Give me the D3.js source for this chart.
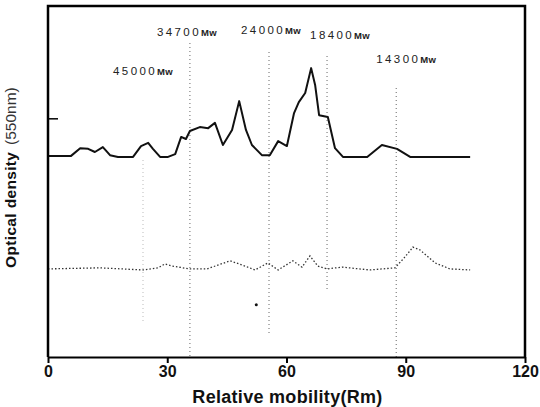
<!DOCTYPE html>
<html>
<head>
<meta charset="utf-8">
<script src="https://cdnjs.cloudflare.com/ajax/libs/d3/7.8.5/d3.min.js"></script>
<style>
  body { margin: 0; background: #fff; }
  svg { display: block; font-family: "Liberation Sans", Arial, sans-serif; }
</style>
</head>
<body>
<div id="chart"></div>
<script>
// densitometer scan - relative mobility vs optical density

// upper trace (solid)
var upperRm = [0, 5.8, 8.1, 10.1, 11.8, 13.8, 15.6, 17.6, 21.4, 23.4, 25.2, 26.4, 28.2, 30.2, 32.0, 33.5, 34.7, 35.7, 38.2, 40.3, 42.0, 44.0, 46.3, 48.1, 49.8, 51.3, 53.8, 55.8, 57.9, 60.1, 61.9, 63.1, 64.7, 66.2, 67.2, 68.2, 70.4, 72.2, 74.2, 80.3, 84.0, 87.8, 91.1, 106.2];
var upperOD = [57.3, 57.3, 59.5, 59.3, 58.4, 59.8, 57.5, 57.0, 57.0, 60.1, 61.0, 59.3, 57.0, 57.0, 57.8, 62.7, 62.1, 64.4, 65.5, 65.2, 66.7, 60.4, 64.7, 72.9, 64.7, 60.4, 57.5, 57.5, 61.5, 60.1, 69.5, 72.6, 75.2, 82.3, 77.5, 68.9, 68.4, 59.5, 57.0, 57.0, 60.4, 59.3, 57.0, 57.0];

// lower trace (dotted)
var lowerRm = [0, 13.1, 23.9, 27.7, 29.4, 31.2, 35.7, 40.0, 45.8, 49.6, 52.1, 55.3, 57.9, 61.6, 63.9, 65.9, 67.9, 70.2, 74.0, 81.0, 87.3, 89.8, 91.8, 93.6, 97.4, 101.1, 106.2];
var lowerOD = [25.1, 25.4, 24.8, 25.4, 26.5, 25.9, 25.1, 25.1, 27.4, 25.9, 24.8, 26.8, 24.8, 27.4, 25.6, 28.8, 25.9, 25.1, 25.6, 24.8, 25.4, 28.5, 31.3, 30.5, 26.8, 25.1, 24.8];

// molecular weight markers
var markerNames = ['45000', '34700', '24000', '18400', '14300'];
var markerRm = [23.9, 35.7, 55.6, 70.2, 87.6];

var xTicks = [0, 30, 60, 90, 120];
var yTicks = [68];

// layout (pixels)
var W = 540, H = 407;
var mLeft = 48, mRight = 525, mTop = 6, mBottom = 357;
// label placement: [dx from line, baseline y], marker line [y0, y1]
var labelPos = [[0, 75], [-3, 36], [2, 34], [13, 39], [10, 63]];
var lineSpan = [[160, 322], [43, 357], [52, 334], [56, 292], [88, 357]];

var svg = d3.select('#chart')
.append('svg')
.attr('width', W)
.attr('height', H)
.style('background-color', '#fff');

var x = d3.scaleLinear().domain([0, 120]).range([mLeft, mRight]);
var y = d3.scaleLinear().domain([0, 100]).range([mBottom, mTop]);

// marker lines + labels
markerRm.forEach(function(r, i){
    svg.append('line')
    .attr('x1', x(r)).attr('x2', x(r))
    .attr('y1', lineSpan[i][0]).attr('y2', lineSpan[i][1])
    .attr('stroke', i == 0 ? '#bbb' : '#666')
    .attr('stroke-width', 1)
    .attr('stroke-dasharray', '1,3');

    var t = svg.append('text')
    .attr('x', x(r) + labelPos[i][0])
    .attr('y', labelPos[i][1])
    .attr('text-anchor', 'middle')
    .attr('fill', '#222');
    t.append('tspan')
    .attr('font-size', 11.5)
    .attr('letter-spacing', 2.4)
    .text(markerNames[i]);
    t.append('tspan')
    .attr('font-size', 9.5)
    .attr('font-weight', 'bold')
    .attr('letter-spacing', 0.3)
    .text('Mw');
});

var line = d3.line()
.x(function(d){ return x(d[0]); })
.y(function(d){ return y(d[1]); });

svg.append('path')
.datum(upperRm.map(function(r, i){ return [r, upperOD[i]]; }))
.attr('d', line)
.attr('fill', 'none')
.attr('stroke', '#111')
.attr('stroke-width', 2)
.attr('stroke-linejoin', 'round');

svg.append('path')
.datum(lowerRm.map(function(r, i){ return [r, lowerOD[i]]; }))
.attr('d', line)
.attr('fill', 'none')
.attr('stroke', '#333')
.attr('stroke-width', 1.3)
.attr('stroke-dasharray', '1.5,2');

// stray speck
svg.append('circle')
.attr('cx', x(52.4)).attr('cy', y(14.9))
.attr('r', 1.5)
.attr('fill', '#111');

// axes
var xAxis = svg.append('g')
.attr('transform', 'translate(0,' + mBottom + ')')
.call(d3.axisBottom(x).tickValues(xTicks).tickSize(6).tickSizeOuter(0));
xAxis.select('.domain').attr('stroke-width', 2);
xAxis.selectAll('line').attr('stroke-width', 2);
xAxis.selectAll('text')
.attr('font-size', 16)
.attr('font-weight', 'bold')
.attr('font-family', '"Liberation Sans", Arial, sans-serif')
.attr('fill', '#111');

var yAxis = svg.append('g')
.attr('transform', 'translate(' + mLeft + ',0)')
.call(d3.axisLeft(y).tickValues(yTicks).tickSize(-10).tickSizeOuter(0).tickFormat(''));
yAxis.select('.domain').remove();
yAxis.selectAll('line').attr('stroke-width', 1.5);

// frame: left, top, right
var fp = d3.path();
fp.moveTo(x(0), y(0));
fp.lineTo(x(0), y(100));
fp.lineTo(x(120), y(100));
fp.lineTo(x(120), y(0));
svg.append('path')
.attr('class', 'frame')
.attr('d', fp.toString())
.attr('fill', 'none')
.attr('stroke', '#000')
.attr('stroke-width', 2.5);

// axis titles
svg.append('text')
.attr('x', (mLeft + mRight) / 2 + 1)
.attr('y', 403)
.attr('text-anchor', 'middle')
.attr('font-size', 18)
.attr('font-weight', 'bold')
.attr('letter-spacing', 0.3)
.attr('fill', '#111')
.text('Relative mobility(Rm)');

svg.append('text')
.attr('transform', 'translate(16,268) rotate(-90)')
.attr('font-size', 15.5)
.attr('font-weight', 'bold')
.attr('textLength', 116)
.attr('fill', '#111')
.text('Optical density');

svg.append('text')
.attr('transform', 'translate(16,145) rotate(-90)')
.attr('font-size', 15.5)
.attr('fill', '#333')
.text('(550nm)');
</script>
</body>
</html>
